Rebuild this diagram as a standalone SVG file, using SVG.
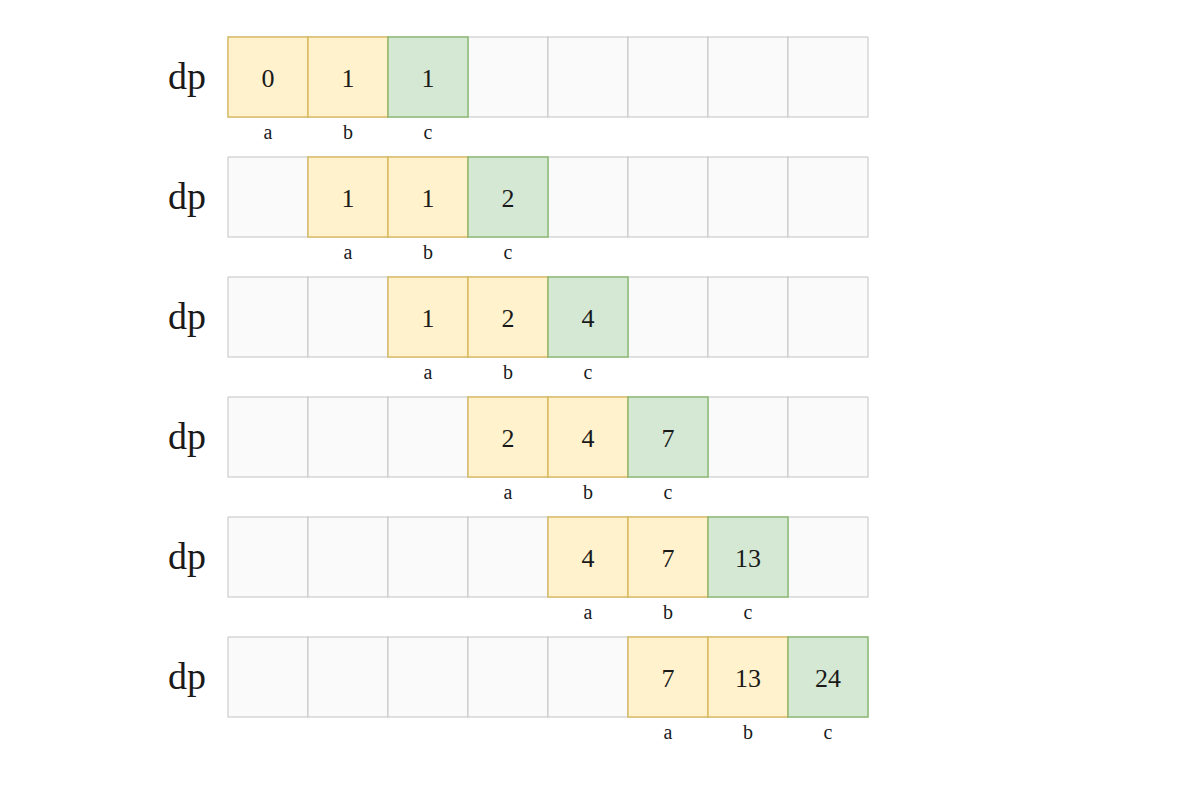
<svg xmlns="http://www.w3.org/2000/svg" width="1178" height="790" viewBox="0 0 1178 790">
<style>
.e{fill:#fafafa;stroke:#c4c4c4;stroke-width:1}
.y{fill:#fff2cc;stroke:#d6b656;stroke-width:1.3}
.g{fill:#d5e8d4;stroke:#82b366;stroke-width:1.3}
.v{font-family:"Liberation Serif","DejaVu Serif",serif;font-size:26px;fill:#1a1a1a;text-anchor:middle}
.dp{font-family:"Liberation Serif","DejaVu Serif",serif;font-size:38px;fill:#1a1a1a;text-anchor:middle}
.l{font-family:"Liberation Serif","DejaVu Serif",serif;font-size:20px;fill:#1a1a1a;text-anchor:middle}
</style>
<rect width="1178" height="790" fill="#ffffff"/>
<defs>
<g id="row">
<rect class="e" x="228" y="0" width="80" height="80"/>
<rect class="e" x="308" y="0" width="80" height="80"/>
<rect class="e" x="388" y="0" width="80" height="80"/>
<rect class="e" x="468" y="0" width="80" height="80"/>
<rect class="e" x="548" y="0" width="80" height="80"/>
<rect class="e" x="628" y="0" width="80" height="80"/>
<rect class="e" x="708" y="0" width="80" height="80"/>
<rect class="e" x="788" y="0" width="80" height="80"/>
</g>
</defs>
<g id="row1" transform="translate(0,37)">
<use href="#row"/>
<text class="dp" x="187" y="52">dp</text>
<rect class="y" x="228" y="0" width="80" height="80"/>
<rect class="y" x="308" y="0" width="80" height="80"/>
<rect class="g" x="388" y="0" width="80" height="80"/>
<text class="v" x="268" y="50">0</text>
<text class="v" x="348" y="50">1</text>
<text class="v" x="428" y="50">1</text>
<text class="l" x="268" y="102">a</text>
<text class="l" x="348" y="102">b</text>
<text class="l" x="428" y="102">c</text>
</g>
<g id="row2" transform="translate(0,157)">
<use href="#row"/>
<text class="dp" x="187" y="52">dp</text>
<rect class="y" x="308" y="0" width="80" height="80"/>
<rect class="y" x="388" y="0" width="80" height="80"/>
<rect class="g" x="468" y="0" width="80" height="80"/>
<text class="v" x="348" y="50">1</text>
<text class="v" x="428" y="50">1</text>
<text class="v" x="508" y="50">2</text>
<text class="l" x="348" y="102">a</text>
<text class="l" x="428" y="102">b</text>
<text class="l" x="508" y="102">c</text>
</g>
<g id="row3" transform="translate(0,277)">
<use href="#row"/>
<text class="dp" x="187" y="52">dp</text>
<rect class="y" x="388" y="0" width="80" height="80"/>
<rect class="y" x="468" y="0" width="80" height="80"/>
<rect class="g" x="548" y="0" width="80" height="80"/>
<text class="v" x="428" y="50">1</text>
<text class="v" x="508" y="50">2</text>
<text class="v" x="588" y="50">4</text>
<text class="l" x="428" y="102">a</text>
<text class="l" x="508" y="102">b</text>
<text class="l" x="588" y="102">c</text>
</g>
<g id="row4" transform="translate(0,397)">
<use href="#row"/>
<text class="dp" x="187" y="52">dp</text>
<rect class="y" x="468" y="0" width="80" height="80"/>
<rect class="y" x="548" y="0" width="80" height="80"/>
<rect class="g" x="628" y="0" width="80" height="80"/>
<text class="v" x="508" y="50">2</text>
<text class="v" x="588" y="50">4</text>
<text class="v" x="668" y="50">7</text>
<text class="l" x="508" y="102">a</text>
<text class="l" x="588" y="102">b</text>
<text class="l" x="668" y="102">c</text>
</g>
<g id="row5" transform="translate(0,517)">
<use href="#row"/>
<text class="dp" x="187" y="52">dp</text>
<rect class="y" x="548" y="0" width="80" height="80"/>
<rect class="y" x="628" y="0" width="80" height="80"/>
<rect class="g" x="708" y="0" width="80" height="80"/>
<text class="v" x="588" y="50">4</text>
<text class="v" x="668" y="50">7</text>
<text class="v" x="748" y="50">13</text>
<text class="l" x="588" y="102">a</text>
<text class="l" x="668" y="102">b</text>
<text class="l" x="748" y="102">c</text>
</g>
<g id="row6" transform="translate(0,637)">
<use href="#row"/>
<text class="dp" x="187" y="52">dp</text>
<rect class="y" x="628" y="0" width="80" height="80"/>
<rect class="y" x="708" y="0" width="80" height="80"/>
<rect class="g" x="788" y="0" width="80" height="80"/>
<text class="v" x="668" y="50">7</text>
<text class="v" x="748" y="50">13</text>
<text class="v" x="828" y="50">24</text>
<text class="l" x="668" y="102">a</text>
<text class="l" x="748" y="102">b</text>
<text class="l" x="828" y="102">c</text>
</g>
</svg>
